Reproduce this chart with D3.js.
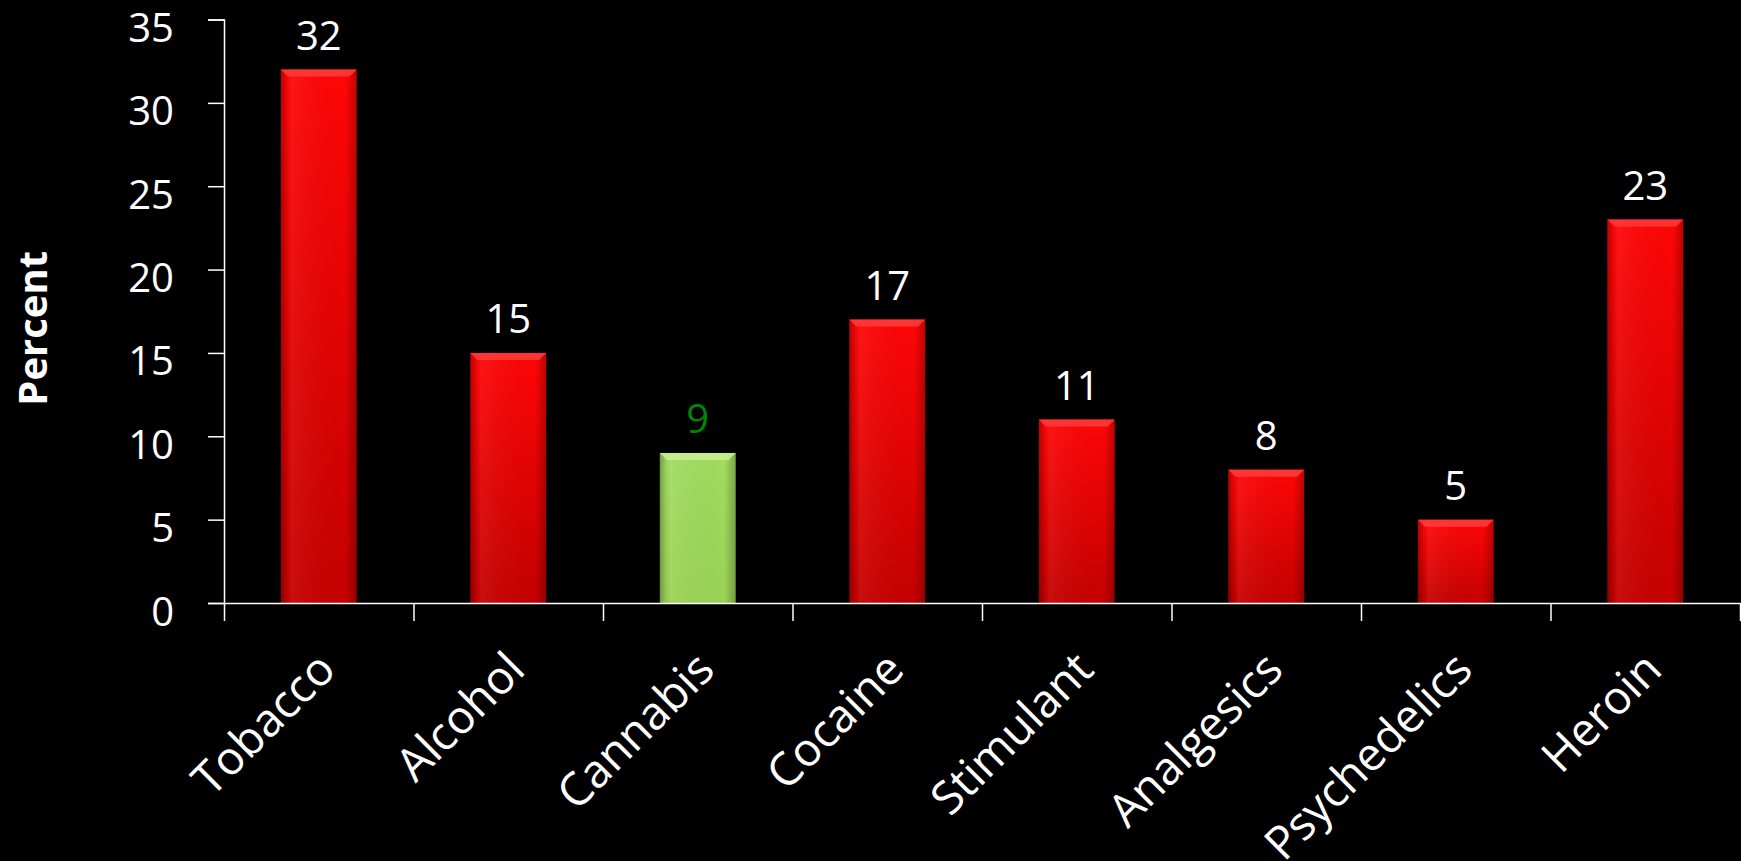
<!DOCTYPE html>
<html>
<head>
<meta charset="utf-8">
<script src="https://cdn.jsdelivr.net/npm/d3@7"></script>
<style>
  html, body { margin: 0; padding: 0; background: #000; }
  svg { display: block; }
  text { font-family: "Open Sans", "DejaVu Sans", sans-serif; fill: #fff; }
</style>
</head>
<body>
<div id="chart"></div>
<script>
// chart data
var categories = ["Tobacco", "Alcohol", "Cannabis", "Cocaine", "Stimulant", "Analgesics", "Psychedelics", "Heroin"];
var values = [32, 15, 9, 17, 11, 8, 5, 23];
var highlighted = ["Cannabis"];
var yTicks = [0, 5, 10, 15, 20, 25, 30, 35];
var yLabel = "Percent";

var W = 1741, H = 861;
var plotLeft = 224, plotRight = 1740, plotTop = 19.5, plotBottom = 603;

var svg = d3.select("#chart").append("svg")
    .attr("width", W)
    .attr("height", H);

svg.append("rect").attr("width", W).attr("height", H).attr("fill", "#000");

// gradients
var defs = svg.append("defs");
function vGrad(id, c1, c2) {
  var g = defs.append("linearGradient").attr("id", id)
      .attr("x1", 0).attr("y1", 0).attr("x2", 0).attr("y2", 1);
  g.append("stop").attr("offset", "0%").attr("stop-color", c1);
  g.append("stop").attr("offset", "100%").attr("stop-color", c2);
}
vGrad("redBody", "#ff0606", "#c40000");
vGrad("greenBody", "#a2dc60", "#9ad255");

var side = defs.append("linearGradient").attr("id", "sideShade")
    .attr("x1", 0).attr("y1", 0).attr("x2", 1).attr("y2", 0);
side.append("stop").attr("offset", "0%").attr("stop-color", "#000").attr("stop-opacity", 0.28);
side.append("stop").attr("offset", "8%").attr("stop-color", "#000").attr("stop-opacity", 0.05);
side.append("stop").attr("offset", "14%").attr("stop-color", "#fff").attr("stop-opacity", 0.06);
side.append("stop").attr("offset", "85%").attr("stop-color", "#000").attr("stop-opacity", 0.0);
side.append("stop").attr("offset", "100%").attr("stop-color", "#000").attr("stop-opacity", 0.25);

// scales
var x = d3.scaleBand()
    .domain(categories)
    .range([plotLeft, plotRight])
    .paddingInner(0.6)
    .paddingOuter(0.3);

var xEdge = d3.scaleLinear().domain([0, categories.length]).range([plotLeft, plotRight]);

var y = d3.scaleLinear().domain([0, 35]).range([plotBottom, plotTop]);

// bars
var data = categories.map(function(c, i) { return {cat: c, val: values[i]}; });
function isHi(d) { return highlighted.indexOf(d.cat) != -1; }

var bars = svg.selectAll("g.bar").data(data).enter().append("g").attr("class", "bar");

bars.append("rect")
    .attr("x", function(d) { return x(d.cat); })
    .attr("y", function(d) { return y(d.val); })
    .attr("width", x.bandwidth())
    .attr("height", function(d) { return y(0) - y(d.val); })
    .attr("fill", function(d) { return isHi(d) ? "url(#greenBody)" : "url(#redBody)"; });

bars.append("rect")
    .attr("x", function(d) { return x(d.cat); })
    .attr("y", function(d) { return y(d.val); })
    .attr("width", x.bandwidth())
    .attr("height", function(d) { return y(0) - y(d.val); })
    .attr("fill", "url(#sideShade)");

// top bevel
var bev = 7;
bars.append("polygon")
    .attr("points", function(d) {
      var x0 = x(d.cat), x1 = x0 + x.bandwidth(), y0 = y(d.val);
      return [[x0, y0], [x1, y0], [x1 - bev, y0 + bev], [x0 + bev, y0 + bev]].join(" ");
    })
    .attr("fill", function(d) { return isHi(d) ? "#c6f08e" : "#ff3a3a"; })
    .attr("opacity", 0.9);

// value labels
svg.selectAll("text.val").data(data).enter().append("text")
    .attr("class", "val")
    .attr("x", function(d) { return x(d.cat) + x.bandwidth() / 2; })
    .attr("y", function(d) { return y(d.val) - 20; })
    .attr("text-anchor", "middle")
    .style("font-size", "40px")
    .style("fill", function(d) { return isHi(d) ? "#00850a" : "#fff"; })
    .text(function(d) { return d.val; });

// y axis
var yAxis = svg.append("g")
    .attr("transform", "translate(" + plotLeft + ",0)")
    .call(d3.axisLeft(y).tickValues(yTicks).tickSize(16).tickPadding(34));
yAxis.select(".domain").attr("stroke", "#fff").attr("stroke-width", 1.5);
yAxis.selectAll(".tick line").attr("stroke", "#fff").attr("stroke-width", 1.5);
yAxis.selectAll(".tick text")
    .attr("fill", "#fff")
    .attr("dy", "0.55em")
    .style("font-size", "40px")
    .style("font-family", "'Open Sans', sans-serif");

// x axis, ticks between categories
var xAxis = svg.append("g")
    .attr("transform", "translate(0," + plotBottom + ")")
    .call(d3.axisBottom(xEdge).tickValues(d3.range(categories.length + 1)).tickSize(18).tickSizeOuter(0).tickFormat(""));
xAxis.select(".domain").attr("stroke", "#fff").attr("stroke-width", 1.5);
xAxis.selectAll(".tick line").attr("stroke", "#fff").attr("stroke-width", 1.5);

// category labels
svg.selectAll("text.cat").data(categories).enter().append("text")
    .attr("class", "cat")
    .attr("text-anchor", "end")
    .attr("transform", function(c) {
      return "translate(" + (x(c) + x.bandwidth() / 2 + 19) + "," + 672 + ") rotate(-45)";
    })
    .style("font-size", "46px")
    .text(function(c) { return c; });

// y label
svg.append("text")
    .attr("transform", "translate(47," + ((plotTop + plotBottom) / 2 + 17) + ") rotate(-90)")
    .attr("text-anchor", "middle")
    .style("font-size", "40px")
    .style("font-weight", "bold")
    .text(yLabel);
</script>
</body>
</html>
